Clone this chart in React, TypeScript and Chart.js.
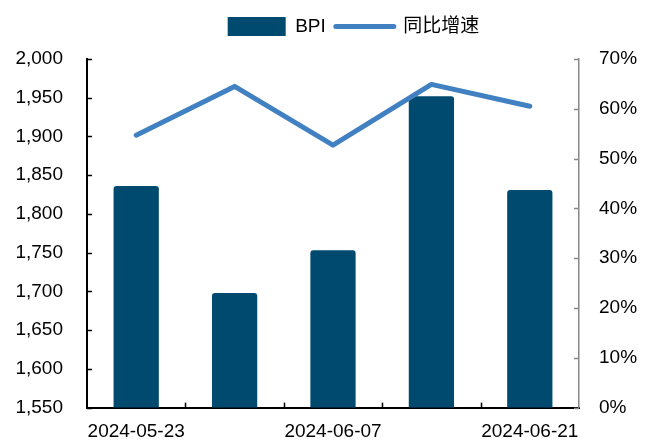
import React, { useEffect, useRef } from "react";
import { Chart, registerables } from "chart.js";

Chart.register(...registerables);

const categories = ["2024-05-23", "2024-05-31", "2024-06-07", "2024-06-14", "2024-06-21"];
const shownLabels = ["2024-05-23", "", "2024-06-07", "", "2024-06-21"];
const bpiValues = [1836, 1698, 1753, 1952, 1831];
const growthValues = [54.7, 64.5, 52.7, 64.9, 60.5];
const leftTicks = [1550, 2000, 50];
const rightTicks = [0, 70, 10];

const BAR_COLOR = "#004A70";
const LINE_COLOR = "#4181C2";
const FONT = "'Liberation Sans', Arial, 'Noto Sans CJK SC', sans-serif";

const AXIS_L = 87;
const AXIS_R = 579;
const W = 653;
const H = 443;
const PAD_TOP = 20;
const LEGEND_UP = 13;
const LEGEND_SHIFT_X = 27;

const axisTicks = {
  id: "axisTicks",
  afterLayout(chart: any) {
    const lg = chart.legend;
    if (lg) {
      lg.left += LEGEND_SHIFT_X;
      lg.right += LEGEND_SHIFT_X;
      lg.top -= LEGEND_UP;
      lg.bottom -= LEGEND_UP;
    }
  },
  afterDraw(chart: any) {
    const { ctx, chartArea, scales } = chart;
    ctx.save();
    ctx.lineWidth = 1.5;
    ctx.strokeStyle = "#000";
    const y = scales.y;
    y.ticks.forEach((_t: any, i: number) => {
      const py = Math.round(y.getPixelForTick(i)) + 0.5;
      ctx.beginPath();
      ctx.moveTo(chartArea.left, py);
      ctx.lineTo(chartArea.left + 5, py);
      ctx.stroke();
    });
    const y1 = scales.y1;
    ctx.strokeStyle = "#888";
    y1.ticks.forEach((_t: any, i: number) => {
      const py = Math.round(y1.getPixelForTick(i)) + 0.5;
      ctx.beginPath();
      ctx.moveTo(chartArea.right - 5, py);
      ctx.lineTo(chartArea.right, py);
      ctx.stroke();
    });
    const x = scales.x;
    ctx.strokeStyle = "#000";
    for (let i = 0; i < categories.length - 1; i++) {
      const px = Math.round((x.getPixelForTick(i) + x.getPixelForTick(i + 1)) / 2) + 0.5;
      ctx.beginPath();
      ctx.moveTo(px, chartArea.bottom);
      ctx.lineTo(px, chartArea.bottom - 5);
      ctx.stroke();
    }
    ctx.restore();
  },
};

export default function App() {
  const ref = useRef<HTMLCanvasElement | null>(null);

  useEffect(() => {
    if (!ref.current) return;
    const chart = new Chart(ref.current, {
      type: "bar",
      data: {
        labels: categories,
        datasets: [
          {
            type: "bar",
            label: "BPI",
            data: bpiValues,
            backgroundColor: BAR_COLOR,
            yAxisID: "y",
            order: 1,
            barPercentage: 0.46,
            categoryPercentage: 1,
            borderRadius: 3,
          } as any,
          {
            type: "line",
            label: "同比增速",
            data: growthValues,
            borderColor: LINE_COLOR,
            backgroundColor: LINE_COLOR,
            borderWidth: 5,
            pointRadius: 0,
            borderCapStyle: "round",
            borderJoinStyle: "round",
            tension: 0,
            yAxisID: "y1",
            order: 0,
          } as any,
        ],
      },
      options: {
        responsive: false,
        devicePixelRatio: 1,
        animation: false,
        layout: { padding: { left: 0, right: 0, top: PAD_TOP, bottom: 0 } },
        plugins: {
          tooltip: { enabled: false },
          legend: {
            position: "top",
            align: "center",
            labels: {
              usePointStyle: true,
              pointStyleWidth: 58,
              boxHeight: 19,
              padding: 10,
              color: "#000",
              font: { family: FONT, size: 19 },
              sort: (a: any, b: any) => a.datasetIndex - b.datasetIndex,
              generateLabels: (c: any) => {
                const items = (Chart.defaults.plugins.legend.labels as any).generateLabels(c);
                items.forEach((it: any) => {
                  if (it.datasetIndex === 0) {
                    it.pointStyle = "rect";
                    it.fillStyle = BAR_COLOR;
                    it.strokeStyle = BAR_COLOR;
                    it.lineWidth = 0;
                  } else {
                    it.pointStyle = "line";
                    it.strokeStyle = LINE_COLOR;
                    it.fillStyle = LINE_COLOR;
                    it.lineWidth = 5;
                    it.lineCap = "round";
                  }
                });
                return items;
              },
            },
          },
        },
        scales: {
          x: {
            type: "category",
            offset: true,
            grid: { display: true, drawOnChartArea: false, drawTicks: false },
            border: { color: "#000", width: 2 },
            ticks: {
              autoSkip: false,
              maxRotation: 0,
              minRotation: 0,
              padding: 13,
              color: "#000",
              font: { family: FONT, size: 19 },
              callback: (_v: any, i: number) => shownLabels[i],
            },
            afterFit: (s: any) => {
              s.height = 35;
            },
          },
          y: {
            position: "left",
            min: leftTicks[0],
            max: leftTicks[1],
            grid: { display: true, drawOnChartArea: false, drawTicks: false },
            border: { color: "#000", width: 2 },
            ticks: {
              stepSize: leftTicks[2],
              padding: 24,
              color: "#000",
              font: { family: FONT, size: 19 },
              callback: (v: any) => Number(v).toLocaleString("en-US"),
            },
            afterFit: (s: any) => {
              s.width = AXIS_L;
            },
          },
          y1: {
            position: "right",
            min: rightTicks[0],
            max: rightTicks[1],
            grid: { display: true, drawOnChartArea: false, drawTicks: false },
            border: { color: "#888", width: 1.5 },
            ticks: {
              stepSize: rightTicks[2],
              padding: 20,
              color: "#000",
              font: { family: FONT, size: 19 },
              callback: (v: any) => v + "%",
            },
            afterFit: (s: any) => {
              s.width = W - AXIS_R;
            },
          },
        },
      },
      plugins: [axisTicks],
    });
    return () => chart.destroy();
  }, []);

  return (
    <div style={{ position: "fixed", left: 0, top: 0, width: W, height: H, background: "#fff" }}>
      <canvas ref={ref} width={W} height={H} />
    </div>
  );
}
